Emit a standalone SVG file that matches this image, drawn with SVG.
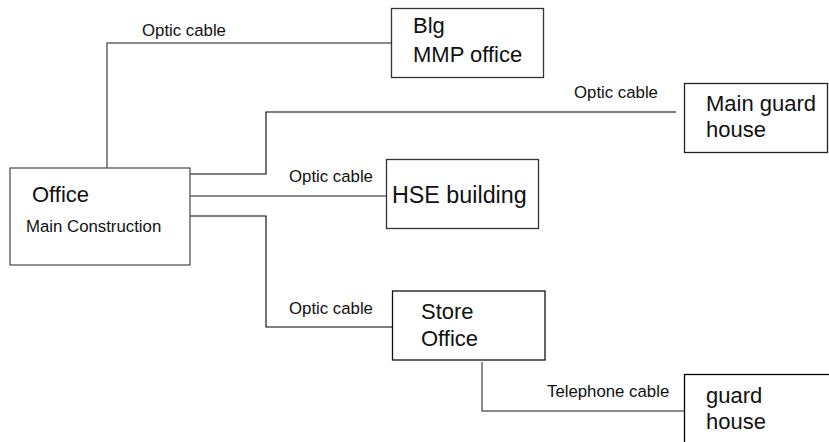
<svg xmlns="http://www.w3.org/2000/svg" width="829" height="442" viewBox="0 0 829 442">
<style>
.box{fill:#fff;stroke-width:1.3}
.big{font-family:"Liberation Sans",Arial,sans-serif;font-size:22px;fill:#111}
.small{font-family:"Liberation Sans",Arial,sans-serif;font-size:16.8px;fill:#111}
.gray{fill:none;stroke:#666;stroke-width:1.5}
.blk{fill:none;stroke:#000;stroke-width:1.1}
</style>
<rect width="829" height="442" fill="#fff"/>
<g id="connectors">
<polyline class="gray" points="107,168 107,43 391,43"/>
<polyline class="blk" points="190,174 266,174 266,112 676,112"/>
<polyline class="gray" points="190,196 386,196"/>
<polyline class="blk" points="190,216 266,216 266,327 392,327"/>
<polyline class="gray" points="482,362 482,411 684,411"/>
<text class="small" x="142" y="36">Optic cable</text>
<text class="small" x="574" y="98">Optic cable</text>
<text class="small" x="289" y="182">Optic cable</text>
<text class="small" x="289" y="314">Optic cable</text>
<text class="small" x="547" y="397">Telephone cable</text>
</g>
<g id="office">
<rect class="box" x="10" y="168" width="180" height="97" stroke="#555"/>
<text class="big" x="32" y="202">Office</text>
<text class="small" x="26" y="232">Main Construction</text>
</g>
<g id="blg-mmp">
<rect class="box" x="391.5" y="8.5" width="152" height="69" stroke="#333"/>
<text class="big" x="413" y="33">Blg</text>
<text class="big" x="413" y="62">MMP office</text>
</g>
<g id="main-guard-house">
<rect class="box" x="684.5" y="83.5" width="143" height="69" stroke="#222"/>
<text class="big" x="706" y="111">Main guard</text>
<text class="big" x="706" y="137">house</text>
</g>
<g id="hse-building">
<rect class="box" x="386.5" y="159.5" width="152" height="69" stroke="#333"/>
<text class="big" x="392" y="203" style="font-size:23.3px">HSE building</text>
</g>
<g id="store-office">
<rect class="box" x="392.5" y="291" width="152.5" height="69" stroke="#111"/>
<text class="big" x="421" y="319">Store</text>
<text class="big" x="421" y="346">Office</text>
</g>
<g id="guard-house">
<rect class="box" x="684.5" y="374.5" width="160" height="90" stroke="#000"/>
<text class="big" x="706" y="403">guard</text>
<text class="big" x="706" y="429">house</text>
</g>
</svg>
